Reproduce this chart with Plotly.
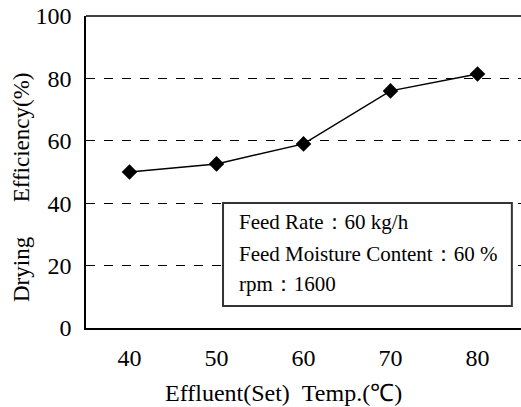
import plotly.graph_objects as go

temps = [40, 50, 60, 70, 80]
efficiency = [50.0, 52.6, 59.0, 76.0, 81.4]
x_ticks = [40, 50, 60, 70, 80]
y_ticks = [0, 20, 40, 60, 80, 100]
x_title = "Effluent(Set)\u00a0\u00a0Temp.(℃)"
y_title = "Drying\u00a0\u00a0\u00a0\u00a0\u00a0\u00a0Efficiency(%)"
info_lines = ["Feed Rate：60 kg/h", "Feed Moisture Content：60 %", "rpm：1600"]

FONT = "Liberation Serif"

fig = go.Figure()
fig.add_trace(go.Scatter(
    x=temps, y=efficiency, mode="lines+markers",
    line=dict(color="black", width=1.5),
    marker=dict(symbol="diamond", size=12, color="black"),
    showlegend=False,
))

fig.update_layout(
    width=521, height=407,
    margin=dict(l=86, r=0, t=16, b=79),
    paper_bgcolor="white", plot_bgcolor="white",
    font=dict(family=FONT, color="black", size=23),
    xaxis=dict(
        range=[35, 85], tickvals=x_ticks, ticks="", showgrid=False,
        showline=True, linecolor="black", linewidth=1.5, mirror=False,
        zeroline=False, tickfont=dict(size=24), automargin=False,
        ticklabelstandoff=7,
    ),
    yaxis=dict(
        range=[0, 100], tickvals=y_ticks, ticks="", showgrid=True,
        gridcolor="black", griddash="dash", gridwidth=1,
        showline=True, linecolor="black", linewidth=1.5,
        zeroline=False, tickfont=dict(size=24), automargin=False,
        ticklabelstandoff=8,
    ),
)

# axis titles
fig.add_annotation(text=x_title, xref="paper", yref="paper", x=0.455, y=-0.208,
                   xanchor="center", yanchor="middle", showarrow=False,
                   font=dict(family=FONT, size=24, color="black"))
fig.add_annotation(text=y_title, xref="paper", yref="paper", x=-0.147, y=0.452,
                   xanchor="center", yanchor="middle", showarrow=False, textangle=-90,
                   font=dict(family=FONT, size=23, color="black"))

# top border line
fig.add_shape(type="line", xref="paper", yref="paper", x0=0, x1=1, y0=1, y1=1,
              line=dict(color="black", width=1.5))

# info box
fig.add_shape(type="rect", xref="paper", yref="paper",
              x0=0.315, x1=0.979, y0=0.0705, y1=0.401,
              line=dict(color="#333333", width=2), fillcolor="white", layer="above")

ys = [0.34, 0.237, 0.14]
for txt, yy in zip(info_lines, ys):
    fig.add_annotation(text=txt, xref="paper", yref="paper", x=0.347, y=yy,
                       xanchor="left", yanchor="middle", showarrow=False,
                       font=dict(family=FONT, size=21, color="black"))

fig.write_html("out.html", config={"displayModeBar": False},
               post_script="document.body.style.margin='0px';")
